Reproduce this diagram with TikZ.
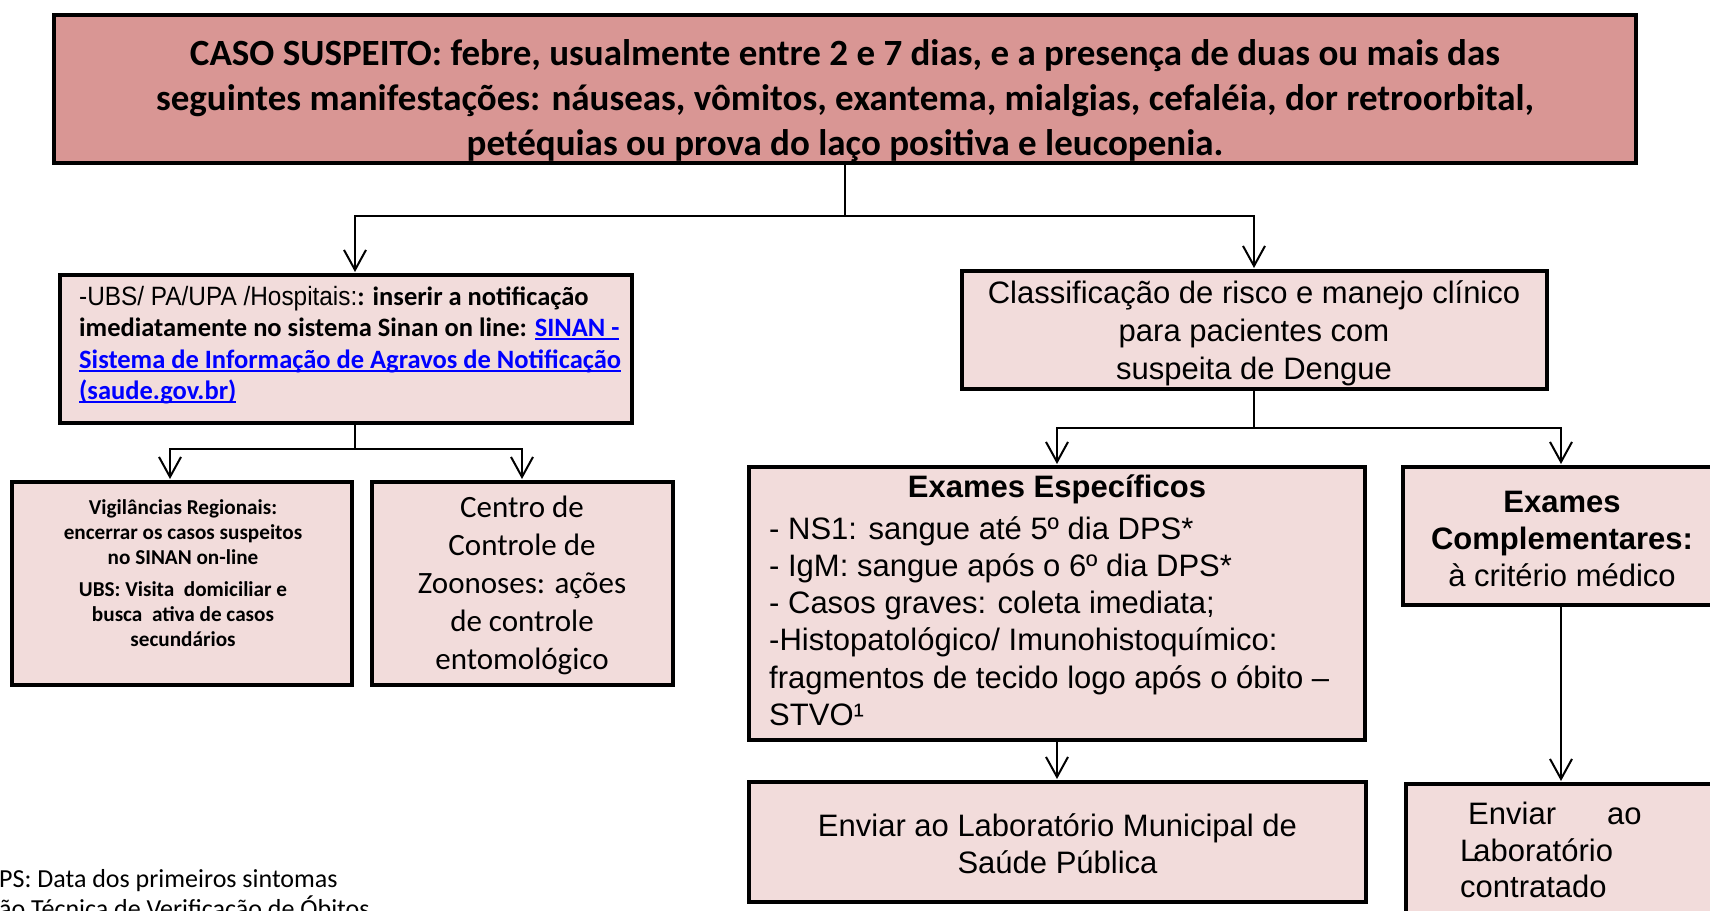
\documentclass[tikz,border=0pt]{standalone}
\usepackage{fontspec}
\usepackage{graphicx}
\usetikzlibrary{arrows.meta,fit}
\setmainfont{Carlito}
\newfontfamily\arial{Liberation Sans}
\definecolor{topfill}{HTML}{D99694}
\definecolor{boxfill}{HTML}{F2DCDB}
\definecolor{linkblue}{HTML}{0000FF}
\newsavebox\lnkbox
\newcommand\lnk[1]{{\color{linkblue}\sbox\lnkbox{#1}\rlap{\rule[-3.5pt]{\wd\lnkbox}{1.8pt}}\usebox\lnkbox}}
\begin{document}
\begin{tikzpicture}[x=1pt,y=-1pt,
  box/.style={draw=black, line width=4pt, fill=boxfill, inner sep=0pt},
  topbox/.style={box, fill=topfill},
  conn/.style={line width=2pt, draw=black},
  arr/.style={conn, -{Straight Barb[length=20pt,width=22pt]}, shorten >=1pt},
  txt/.style={inner sep=0pt, text=black},
]
\useasboundingbox (0,0) rectangle (1710,910);
\clip (0,0) rectangle (1710,910);

% boxes
\node[topbox, fit={(54,15) (1636,163)}] (top) {};
\node[box, fit={(60,275) (632,423)}] (notif) {};
\node[box, fit={(12,482) (352,685)}] (vig) {};
\node[box, fit={(372,482) (673,685)}] (centro) {};
\node[box, fit={(962,271) (1547,389)}] (classif) {};
\node[box, fit={(749,467) (1365,740)}] (esp) {};
\node[box, fit={(749,782) (1366,902)}] (enviar) {};
\node[box, fit={(1403,467) (1730,605)}] (comp) {};
\node[box, fit={(1406,784) (1730,930)}] (contr) {};

% texts
\node[txt, align=center, font=\bfseries\fontsize{37}{45}\selectfont] (toptext) at (845,101)
  {CASO SUSPEITO: febre, usualmente entre 2 e 7 dias, e a presença de duas ou mais das\\
   seguintes manifestações: náuseas, vômitos, exantema, mialgias, cefaléia, dor retroorbital,\\
   petéquias ou prova do laço positiva e leucopenia.};

\node[txt, align=left, anchor=west, font=\bfseries\fontsize{26.5}{31.5}\selectfont] (notiftext) at (79,345)
  {{\arial\mdseries\scalebox{0.92}[1]{-UBS/ PA/UPA /Hospitais:}}: inserir a notificação\\
   imediatamente no sistema Sinan on line: \lnk{SINAN -}\\
   \lnk{Sistema de Informação de Agravos de Notificação}\\
   \lnk{(saude.gov.br)}};

\node[txt, align=center, font=\bfseries\fontsize{21.2}{25}\selectfont] (vigtext) at (183,573)
  {Vigilâncias Regionais:\\ encerrar os casos suspeitos\\ no SINAN on-line\\[7pt]
   UBS: Visita\ \ domiciliar e\\ busca\ \ ativa de casos\\ secundários};

\node[txt, align=center, font=\fontsize{31}{38}\selectfont] (centrotext) at (522,585)
  {Centro de\\ Controle de\\ Zoonoses: ações\\ de controle\\ entomológico};

\node[txt, align=center, font=\arial\fontsize{31}{38}\selectfont] (classiftext) at (1254,333)
  {Classificação de risco e manejo clínico\\ para pacientes com\\ suspeita de Dengue};

\node[txt, font=\arial\bfseries\fontsize{31}{37}\selectfont] (esptitle) at (1057,489)
  {Exames Específicos};
\node[txt, align=left, anchor=west, font=\arial\fontsize{31}{37.2}\selectfont] (esptext) at (769,621)
  {- NS1: sangue até 5º dia DPS*\\
   - IgM: sangue após o 6º dia DPS*\\
   - Casos graves: coleta imediata;\\
   -Histopatológico/ Imunohistoquímico:\\
   fragmentos de tecido logo após o óbito –\\
   STVO¹};

\node[txt, align=center, font=\arial\fontsize{31}{37}\selectfont] (envtext) at ([yshift=-2pt]enviar.center)
  {Enviar ao Laboratório Municipal de\\ Saúde Pública};

\node[txt, align=center, font=\arial\fontsize{31}{37}\selectfont] (comptext) at (1562,539)
  {\textbf{Exames}\\ \textbf{Complementares:}\\ à critério médico};

\node[txt, align=left, anchor=west, font=\arial\fontsize{31}{36.5}\selectfont] (contrtext) at (1460,850)
  {\hspace*{8pt}Enviar\hspace{51pt}ao\\ L\kern-4pt aboratório\\ contratado};

\node[txt, anchor=base west, font=\fontsize{26}{31}\selectfont] (foot1) at (-1,887)
  {PS: Data dos primeiros sintomas};
\node[txt, anchor=base west, font=\fontsize{26}{31}\selectfont] (foot2) at (-1,917)
  {ão Técnica de Verificação de Óbitos};

% connectors
\coordinate (j1) at (845,216);
\coordinate (jl) at (355,216);
\coordinate (jr) at (1254,216);
\draw[conn] (top.south) -- (j1);
\draw[arr] (j1) -- (jl) -- (jl |- notif.north);
\draw[arr] (j1) -- (jr) -- (jr |- classif.north);

\coordinate (n1) at (355,449);
\coordinate (nl) at (170,449);
\coordinate (nr) at (522,449);
\draw[conn] (n1 |- notif.south) -- (n1);
\draw[arr] (n1) -- (nl) -- (nl |- vig.north);
\draw[arr] (n1) -- (nr) -- (nr |- centro.north);

\coordinate (c1) at (1254,428);
\coordinate (cl) at (1057,428);
\coordinate (cr) at (1561,428);
\draw[conn] (c1 |- classif.south) -- (c1);
\draw[arr] (c1) -- (cl) -- (cl |- esp.north);
\draw[arr] (c1) -- (cr) -- (cr |- comp.north);

\draw[arr] (cl |- esp.south) -- (cl |- enviar.north);
\draw[arr] (cr |- comp.south) -- (cr |- contr.north);
\end{tikzpicture}
\end{document}
